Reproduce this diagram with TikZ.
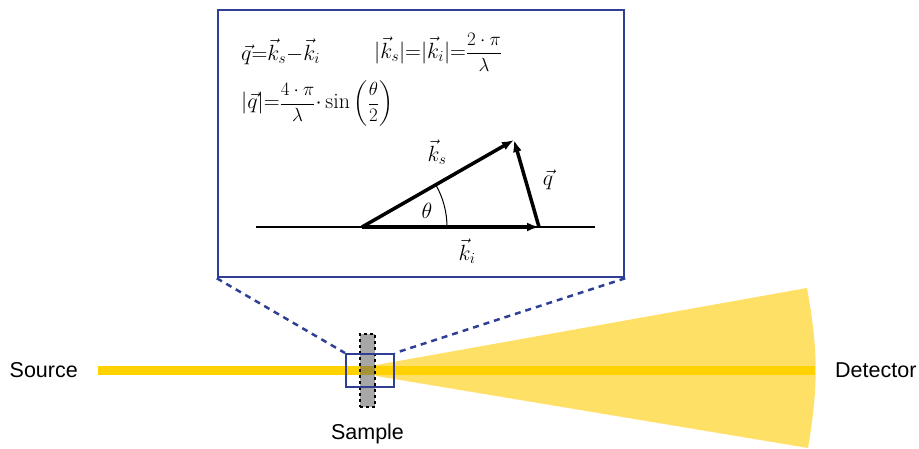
\RequirePackage{fix-cm}
\documentclass[tikz,border=0pt]{standalone}
\usepackage{amsmath,amssymb}
\usepackage{fontspec}
\newfontfamily\arialfont{Liberation Sans}
\newcommand{\smallfrac}[2]{\mbox{\fontsize{19}{22}\selectfont$\dfrac{#1}{#2}$}}
\usepackage{tikz}
\usetikzlibrary{arrows.meta, positioning, calc}
\usepackage{xcolor}
\definecolor{frameblue}{RGB}{47,63,150}
\definecolor{beamyellow}{RGB}{255,210,0}
\definecolor{coneyellow}{RGB}{255,224,102}
\definecolor{samplegray}{RGB}{100,100,100}

\begin{document}
\begin{tikzpicture}[
    x=1pt, y=-1pt,
    frame/.style={rectangle, draw=frameblue, line width=#1, inner sep=0pt},
    lbl/.style={font=\arialfont\fontsize{21.5}{25}\selectfont, inner sep=0pt},
    eq/.style={font=\fontsize{22}{26}\selectfont, inner sep=0pt, anchor=west},
    vec/.style={-{Latex[length=12pt, width=9pt]}, line width=3.5pt},
    zoomline/.style={frameblue, dashed, dash pattern=on 6pt off 5pt, line width=2.5pt},
]
    \useasboundingbox (0,0) rectangle (919,449);

    % Scattered cone and beam
    \fill[coneyellow] (376,365) -- (807,288) to[bend left=10] (808,448) -- (376,376) -- cycle;
    \coordinate (bs) at (98,370.5);
    \coordinate (be) at (815,370.5);
    \draw[beamyellow, line width=9pt] (bs) -- (be);

    % Sample and illuminated spot
    \node[rectangle, draw=black, dashed, line width=2pt, fill=samplegray, fill opacity=0.57,
          minimum width=15pt, minimum height=73pt, inner sep=0pt] (sample) at (367.5,370.5) {};
    \node[frame=2pt, minimum width=48pt, minimum height=33pt] (spot) at (370,370.5) {};

    % Labels
    \node[lbl, left=20pt of bs] (src) {Source};
    \node[lbl, right=20pt of be] (det) {Detector};
    \node[lbl, below=16pt of sample] (smp) {Sample};

    % Zoomed inset
    \node[frame=2.5pt, minimum width=406pt, minimum height=267pt] (zoom) at (421,143.5) {};
    \draw[zoomline] (zoom.south west) -- (spot.north west);
    \draw[zoomline] (zoom.south east) -- (spot.north east);

    % Relations
    \node[eq] (eqq) at (241,52) {$\vec q{=}\vec k_s{-}\vec k_i$};
    \node[eq] (eqk) at (374,52) {$|\vec k_s|{=}|\vec k_i|{=}\smallfrac{2\cdot\pi}{\lambda}$};
    \node[eq] (eqs) at (241,104) {$|\vec q|{=}\smallfrac{4\cdot\pi}{\lambda}{\cdot}\sin\mbox{\fontsize{19}{22}\selectfont$\left(\dfrac{\theta}{2}\right)$}$};

    % Scattering triangle
    \coordinate (axl) at (256,227);
    \coordinate (axr) at (595,227);
    \coordinate (o) at (362,227);
    \coordinate (ki) at (539,227);
    \coordinate (ks) at (514,140);
    \draw[line width=1.5pt] (axl) -- (axr);
    \draw[line width=1pt] ($(o)+(85,0)$) arc[start angle=0, end angle=29.8, radius=85pt];
    \draw[vec] (o) -- (ki);
    \draw[vec] (o) -- (ks);
    \draw[vec] (ki) -- (ks);

    \node[eq, anchor=center] (lks) at (437,152) {$\vec k_s$};
    \node[eq, anchor=center] (lq) at (548,180) {$\vec q$};
    \node[eq, anchor=center] (lki) at (467,251) {$\vec k_i$};
    \node[eq, anchor=center] (lth) at (427,211) {$\theta$};

\end{tikzpicture}
\end{document}
